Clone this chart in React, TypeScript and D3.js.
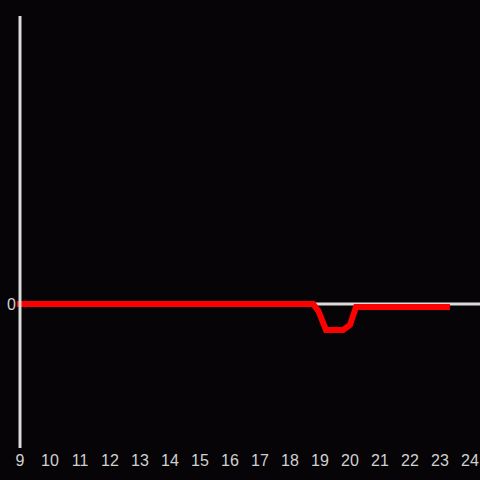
import React from "react";
import * as d3 from "d3";

const hours = [8.9, 18.77, 18.95, 19.2, 19.77, 20.0, 20.2, 23.33];
const values = [0, 0, -0.05, -0.18, -0.18, -0.145, -0.021, -0.021];
const xTicks = [9, 10, 11, 12, 13, 14, 15, 16, 17, 18, 19, 20, 21, 22, 23, 24];
const yTicks = [0];

export default function App() {
  const W = 480, H = 480;
  const x = d3.scaleLinear().domain([9, 24]).range([20, 470]);
  const y = d3.scaleLinear().domain([-1, 2]).range([448, 16]);
  const line = d3
    .line<number>()
    .x((_, i) => x(hours[i]))
    .y((d) => y(d));
  return (
    <svg
      width={W}
      height={H}
      style={{ position: "fixed", left: 0, top: 0, background: "#060406" }}
      fontFamily="'Liberation Sans', Arial, sans-serif"
    >
      <rect x={0} y={0} width={W} height={H} fill="#060406" />
      <line x1={20} x2={480} y1={y(0)} y2={y(0)} stroke="#dcdcdc" strokeWidth={3} />
      <path d={line(values) || ""} fill="none" stroke="#ff0000" strokeWidth={6} strokeLinejoin="miter" />
      <line x1={20} x2={20} y1={16} y2={448} stroke="#dcdcdc" strokeWidth={3} />
      {xTicks.map((t) => (
        <text key={t} x={x(t)} y={466} fill="#d0d0d0" fontSize={16} textAnchor="middle">
          {t}
        </text>
      ))}
      {yTicks.map((t) => (
        <text key={t} x={16} y={y(t)} dy="0.35em" fill="#d0d0d0" fontSize={16} textAnchor="end">
          {t}
        </text>
      ))}
    </svg>
  );
}
